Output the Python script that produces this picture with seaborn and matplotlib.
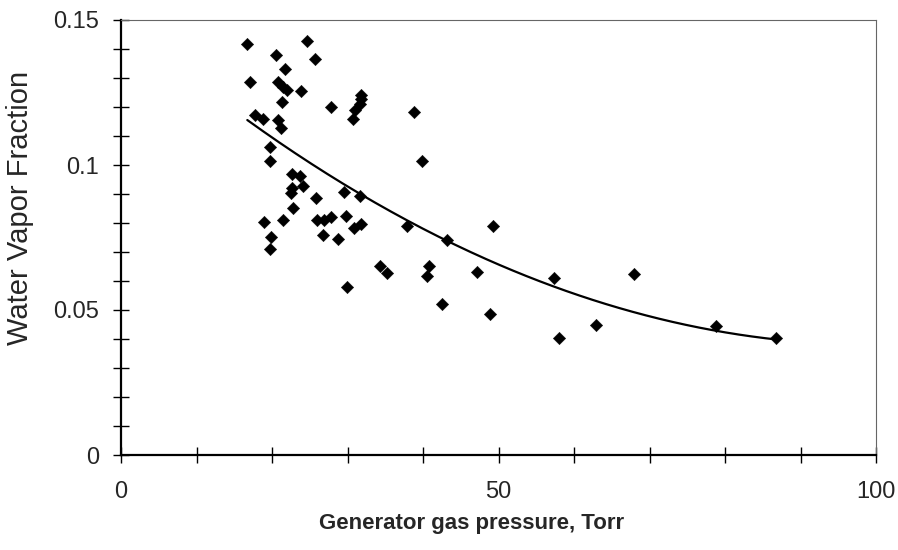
import numpy as np
import pandas as pd
import matplotlib
matplotlib.use("Agg")
import matplotlib.pyplot as plt
import seaborn as sns
from matplotlib.ticker import MultipleLocator, FixedLocator

# Generator gas pressure (Torr)
pressure = [16.73, 24.68, 20.53, 25.70, 21.76, 17.09, 20.83, 21.50, 22.03, 23.80,
            21.28, 27.77, 31.85, 31.79, 31.72, 30.99, 30.77, 17.75, 18.85, 20.83,
            21.15, 19.74, 19.74, 22.69, 23.71, 24.15, 22.61, 22.52, 25.79, 29.54,
            31.66, 22.82, 18.94, 21.42, 26.00, 26.89, 27.77, 29.80, 30.86, 31.79,
            19.83, 26.69, 28.78, 19.74, 38.81, 39.83, 37.84, 43.22, 34.30, 35.27,
            40.86, 40.57, 29.89, 42.58, 48.87, 49.23, 47.11, 57.39, 67.95, 57.97,
            62.85, 78.81, 86.75]
# Water vapor fraction
fraction = [0.1416, 0.1428, 0.1380, 0.1366, 0.1331, 0.1287, 0.1285, 0.1268, 0.1259, 0.1256,
            0.1216, 0.1201, 0.1243, 0.1226, 0.1209, 0.1190, 0.1158, 0.1172, 0.1158, 0.1155,
            0.1127, 0.1062, 0.1014, 0.0969, 0.0962, 0.0928, 0.0920, 0.0904, 0.0885, 0.0908,
            0.0894, 0.0851, 0.0804, 0.0810, 0.0810, 0.0809, 0.0820, 0.0824, 0.0784, 0.0798,
            0.0751, 0.0759, 0.0745, 0.0709, 0.1182, 0.1014, 0.0790, 0.0741, 0.0652, 0.0628,
            0.0652, 0.0617, 0.0578, 0.0521, 0.0486, 0.0790, 0.0632, 0.0609, 0.0623, 0.0404,
            0.0447, 0.0445, 0.0403]

# 2nd-order polynomial trendline coefficients (highest power first)
trend_coef = [1.134e-5, -0.002254, 0.15004]

x_ticks = [0, 50, 100]
x_tick_labels = ["0", "50", "100"]
y_ticks = [0, 0.05, 0.1, 0.15]
y_tick_labels = ["0", "0.05", "0.1", "0.15"]

df = pd.DataFrame({"pressure": pressure, "fraction": fraction})
trend_x = np.linspace(min(pressure), max(pressure), 200)
trend_df = pd.DataFrame({"pressure": trend_x, "fraction": np.polyval(trend_coef, trend_x)})

sns.set_style("white")
plt.rcParams['font.family'] = ['Liberation Sans', 'DejaVu Sans']

fig = plt.figure(figsize=(8.98, 5.5), dpi=100)
ax = fig.add_axes([121/898, 1-455/550, (876-121)/898, (455-20)/550])

sns.lineplot(data=trend_df, x="pressure", y="fraction", color="black",
             linewidth=1.6, ax=ax)
sns.scatterplot(data=df, x="pressure", y="fraction", marker="D", s=40,
                color="black", edgecolor="black", linewidth=0.3, ax=ax, zorder=3)

ax.set_xlim(0, 100)
ax.set_ylim(0, 0.15)
ax.xaxis.set_major_locator(FixedLocator(x_ticks))
ax.set_xticklabels(x_tick_labels)
ax.yaxis.set_major_locator(FixedLocator(y_ticks))
ax.set_yticklabels(y_tick_labels)
ax.xaxis.set_minor_locator(MultipleLocator(10))
ax.yaxis.set_minor_locator(MultipleLocator(0.01))

ax.tick_params(axis="both", which="both", direction="inout", length=12, width=1.0,
               color="black", bottom=True, left=True, top=False, right=False)
ax.tick_params(axis="x", which="major", labelsize=17, pad=13)
ax.tick_params(axis="y", which="major", labelsize=17, pad=10)

for side in ["left", "bottom"]:
    ax.spines[side].set_color("black")
    ax.spines[side].set_linewidth(1.6)
for side in ["top", "right"]:
    ax.spines[side].set_color("#666666")
    ax.spines[side].set_linewidth(0.8)

ax.set_xlabel("Generator gas pressure, Torr", fontsize=16, fontweight="bold", va="center")
ax.xaxis.set_label_coords((471.5-121)/755, (455-523)/435)
ax.set_ylabel("Water Vapor Fraction", fontsize=21, va="center")
ax.yaxis.set_label_coords((20-121)/755, (455-208)/435)

fig.savefig("out.png", dpi=100)
